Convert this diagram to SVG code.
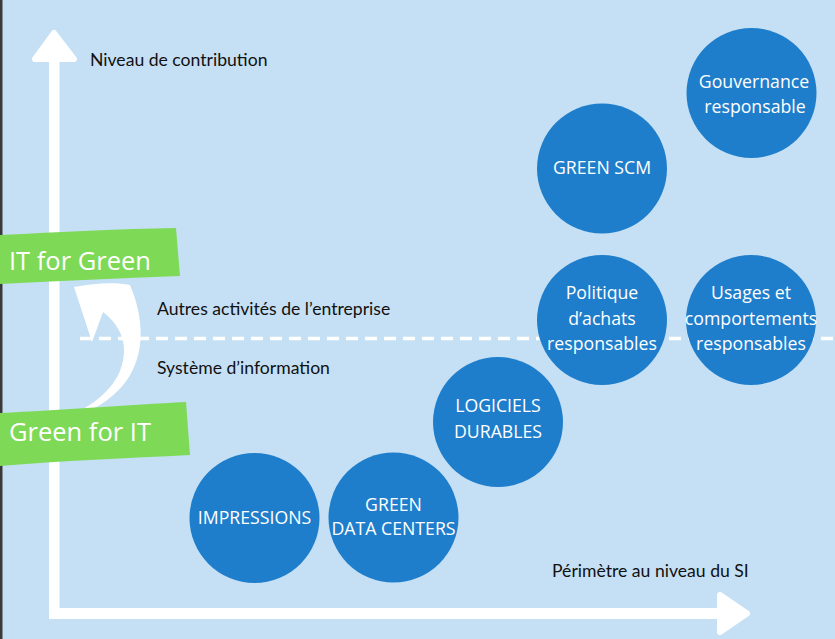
<svg xmlns="http://www.w3.org/2000/svg" width="835" height="639" viewBox="0 0 835 639">
<style>
.bg{fill:#C5E0F4}
.c{fill:#1F7ECB}
.ct{fill:#fff;font-family:"Open Sans",sans-serif;font-size:17.7px;text-anchor:middle}
.lbl{fill:#111;font-family:Lato,sans-serif;font-size:17.6px}
.ban{fill:#7ED957}
.bt{fill:#fff;font-family:"Open Sans",sans-serif;font-size:25.5px}
.ax{fill:#fff;stroke:#fff;stroke-linejoin:round}
</style>
<rect class="bg" x="0" y="0" width="835" height="639"/>
<rect x="0" y="0" width="2.5" height="639" fill="#3a3a3a"/>
<g id="connectors">
<line x1="80" y1="338.5" x2="835" y2="338.5" stroke="#fff" stroke-width="3.5" stroke-dasharray="12 7"/>
<rect class="ax" x="49" y="55" width="10.5" height="564" stroke-width="0"/>
<polygon class="ax" points="54,33 35,59 74,59" stroke-width="6"/>
<rect class="ax" x="49" y="608" width="672" height="11" stroke-width="0"/>
<polygon class="ax" points="747,613.5 720,595 720,632" stroke-width="6"/>
<path id="curve" fill="#fff" d="M74 287 C95 283 115 282 130 285 C147 325 147 372 106 401 C96 408 86 413 71 416 C102 400 124 380 124 350 C124 335 116 322 103 312 L92 342 Z"/>
</g>
<g id="axis-labels">
<text class="lbl" x="90" y="66">Niveau de contribution</text>
<text class="lbl" x="157" y="315">Autres activités de l’entreprise</text>
<text class="lbl" x="157" y="374">Système d’information</text>
<text class="lbl" x="552" y="577">Périmètre au niveau du SI</text>
</g>
<g id="it-for-green">
<path class="ban" d="M0 235 C60 232 120 229 176 228 L180 276 C120 278 60 281 0 284 Z"/>
<text class="bt" x="9" y="270">IT for Green</text>
</g>
<g id="green-for-it">
<path class="ban" d="M0 413 C60 410 130 405 186 402 L190 455 C130 458 60 461 0 466 Z"/>
<text class="bt" x="9" y="441">Green for IT</text>
</g>
<g id="impressions"><circle class="c" cx="254.5" cy="518" r="65"/><text class="ct" x="254.5" y="524">IMPRESSIONS</text></g>
<g id="green-data-centers"><circle class="c" cx="393.5" cy="517.5" r="65"/><text class="ct" x="393.5" y="511">GREEN</text><text class="ct" x="393.5" y="535">DATA CENTERS</text></g>
<g id="logiciels"><circle class="c" cx="498" cy="422" r="65"/><text class="ct" x="498" y="412">LOGICIELS</text><text class="ct" x="498" y="438">DURABLES</text></g>
<g id="politique"><circle class="c" cx="602" cy="320" r="65"/><text class="ct" x="602" y="299">Politique</text><text class="ct" x="602" y="325">d’achats</text><text class="ct" x="602" y="350">responsables</text></g>
<g id="usages"><circle class="c" cx="751" cy="320" r="65"/><text class="ct" x="751" y="299">Usages et</text><text class="ct" x="751" y="325">comportements</text><text class="ct" x="751" y="350">responsables</text></g>
<g id="green-scm"><circle class="c" cx="602" cy="168.5" r="65"/><text class="ct" x="602" y="174">GREEN SCM</text></g>
<g id="gouvernance"><circle class="c" cx="751.5" cy="93" r="65"/><text class="ct" x="754" y="88">Gouvernance</text><text class="ct" x="755" y="113">responsable</text></g>
</svg>
